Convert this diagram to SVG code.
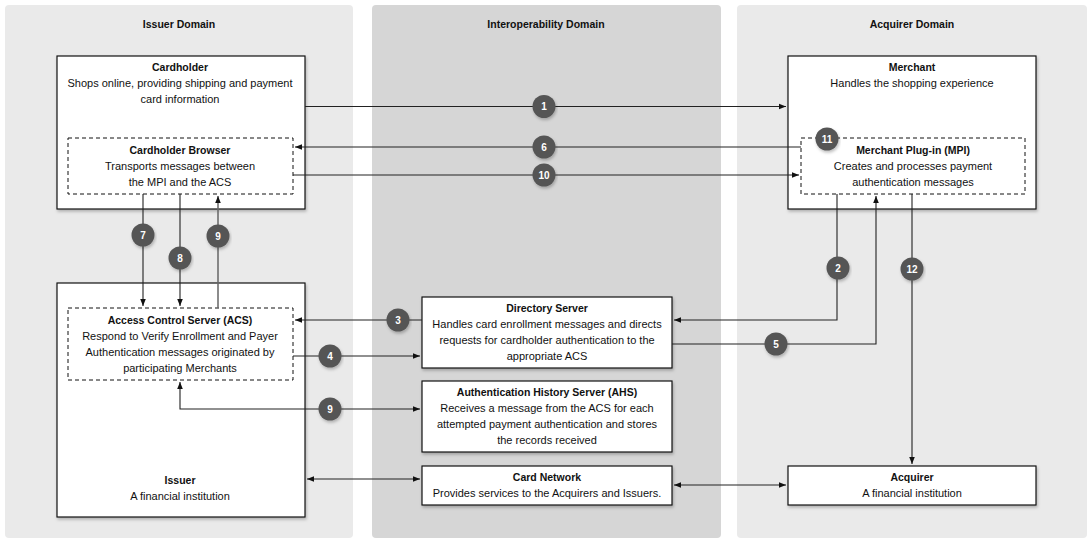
<svg xmlns="http://www.w3.org/2000/svg" width="1092" height="544" viewBox="0 0 1092 544">
<defs>
<filter id="sh" x="-10%" y="-10%" width="120%" height="130%">
<feDropShadow dx="1" dy="2" stdDeviation="1.5" flood-color="#000" flood-opacity="0.25"/>
</filter>
<marker id="ah" viewBox="0 0 8 8" refX="8" refY="4" markerWidth="7" markerHeight="7" markerUnits="userSpaceOnUse" orient="auto-start-reverse">
<path d="M0,0.8 L8,4 L0,7.2 Z" fill="#111"/>
</marker>
</defs>
<style>
text{font-family:"Liberation Sans",Arial,sans-serif;fill:#111;text-anchor:middle}
.t{font-size:10.5px;font-weight:bold}
.b{font-size:11px}
.box{fill:#fff;stroke:#111;stroke-width:1.2;filter:url(#sh)}
.dash{fill:none;stroke:#111;stroke-width:1;stroke-dasharray:4,3}
.panel{fill:#eaeaea}
.panel2{fill:#d6d6d6}
.c{fill:none;stroke:#222;stroke-width:1.1}
.g{stroke:#666;stroke-width:1.5}
.bd circle{fill:#555;filter:url(#sh)}
.bd text{fill:#fff;font-size:10px;font-weight:bold}
</style>
<rect width="1092" height="544" fill="#fff"/>
<g id="issuer-domain">
<rect class="panel" x="5" y="5" width="348" height="533" rx="4"/>
<text class="t" x="179" y="28">Issuer Domain</text>
</g>
<g id="interop-domain">
<rect class="panel2" x="372" y="5" width="349" height="533" rx="4"/>
<text class="t" x="546" y="28">Interoperability Domain</text>
</g>
<g id="acquirer-domain">
<rect class="panel" x="737" y="5" width="350" height="533" rx="4"/>
<text class="t" x="912" y="28">Acquirer Domain</text>
</g>
<g id="cardholder">
<rect class="box" x="57" y="56" width="248" height="153"/>
<text class="t" x="180" y="71">Cardholder</text>
<text class="b" x="180" y="87">Shops online, providing shipping and payment</text>
<text class="b" x="180" y="103">card information</text>
</g>
<g id="cardholder-browser">
<rect class="dash" x="68" y="138" width="225" height="56"/>
<text class="t" x="180" y="154">Cardholder Browser</text>
<text class="b" x="180" y="170">Transports messages between</text>
<text class="b" x="180" y="186">the MPI and the ACS</text>
</g>
<g id="issuer">
<rect class="box" x="57" y="283" width="248" height="234"/>
<text class="t" x="180" y="484">Issuer</text>
<text class="b" x="180" y="500">A financial institution</text>
</g>
<g id="acs">
<rect class="dash" x="68" y="308" width="225" height="72"/>
<text class="t" x="180" y="324">Access Control Server (ACS)</text>
<text class="b" x="180" y="340">Respond to Verify Enrollment and Payer</text>
<text class="b" x="180" y="356">Authentication messages originated by</text>
<text class="b" x="180" y="372">participating Merchants</text>
</g>
<g id="directory-server">
<rect class="box" x="422" y="297" width="250" height="71"/>
<text class="t" x="547" y="312">Directory Server</text>
<text class="b" x="547" y="328">Handles card enrollment messages and directs</text>
<text class="b" x="547" y="344">requests for cardholder authentication to the</text>
<text class="b" x="547" y="360">appropriate ACS</text>
</g>
<g id="ahs">
<rect class="box" x="422" y="381" width="250" height="71"/>
<text class="t" x="547" y="396">Authentication History Server (AHS)</text>
<text class="b" x="547" y="412">Receives a message from the ACS for each</text>
<text class="b" x="547" y="428">attempted payment authentication and stores</text>
<text class="b" x="547" y="444">the records received</text>
</g>
<g id="card-network">
<rect class="box" x="422" y="466" width="250" height="39"/>
<text class="t" x="547" y="481">Card Network</text>
<text class="b" x="547" y="497">Provides services to the Acquirers and Issuers.</text>
</g>
<g id="merchant">
<rect class="box" x="788" y="56" width="248" height="153"/>
<text class="t" x="912" y="71">Merchant</text>
<text class="b" x="912" y="87">Handles the shopping experience</text>
</g>
<g id="mpi">
<rect class="dash" x="801" y="138" width="224" height="56"/>
<text class="t" x="913" y="154">Merchant Plug-in (MPI)</text>
<text class="b" x="913" y="170">Creates and processes payment</text>
<text class="b" x="913" y="186">authentication messages</text>
</g>
<g id="acquirer">
<rect class="box" x="788" y="466" width="248" height="39"/>
<text class="t" x="912" y="481">Acquirer</text>
<text class="b" x="912" y="497">A financial institution</text>
</g>
<g id="connectors">
<path class="c" d="M305,106.5 H786" marker-end="url(#ah)"/>
<path class="c" d="M801,147 H295" marker-end="url(#ah)"/>
<path class="c" d="M293,175 H799" marker-end="url(#ah)"/>
<path class="c" d="M143,194 V306" marker-end="url(#ah)"/>
<path class="c" d="M180,194 V306" marker-end="url(#ah)"/>
<path class="c g" d="M218,308 V196" marker-end="url(#ah)"/>
<path class="c" d="M422,320 H295" marker-end="url(#ah)"/>
<path class="c" d="M293,356 H420" marker-end="url(#ah)"/>
<path class="c" d="M180,382 V409 H420" marker-start="url(#ah)" marker-end="url(#ah)"/>
<path class="c" d="M837,194 V320 H674" marker-end="url(#ah)"/>
<path class="c" d="M672,344 H876 V196" marker-end="url(#ah)"/>
<path class="c" d="M912,194 V464" marker-end="url(#ah)"/>
<path class="c" d="M307,479 H420" marker-start="url(#ah)" marker-end="url(#ah)"/>
<path class="c" d="M674,485 H786" marker-start="url(#ah)" marker-end="url(#ah)"/>
</g>
<g id="badges" class="bd">
<g><circle cx="544" cy="106.5" r="11.5"/><text x="544" y="110">1</text></g>
<g><circle cx="838" cy="268" r="11.5"/><text x="838" y="271.5">2</text></g>
<g><circle cx="398" cy="320" r="11.5"/><text x="398" y="323.5">3</text></g>
<g><circle cx="330" cy="356" r="11.5"/><text x="330" y="359.5">4</text></g>
<g><circle cx="776" cy="344" r="11.5"/><text x="776" y="347.5">5</text></g>
<g><circle cx="544" cy="147" r="11.5"/><text x="544" y="150.5">6</text></g>
<g><circle cx="143" cy="235" r="11.5"/><text x="143" y="238.5">7</text></g>
<g><circle cx="180" cy="258" r="11.5"/><text x="180" y="261.5">8</text></g>
<g><circle cx="218" cy="236" r="11.5"/><text x="218" y="239.5">9</text></g>
<g><circle cx="330" cy="409" r="11.5"/><text x="330" y="412.5">9</text></g>
<g><circle cx="544" cy="175" r="11.5"/><text x="544" y="178.5">10</text></g>
<g><circle cx="827" cy="139" r="11.5"/><text x="827" y="142.5">11</text></g>
<g><circle cx="912" cy="269" r="11.5"/><text x="912" y="272.5">12</text></g>
</g>
</svg>
